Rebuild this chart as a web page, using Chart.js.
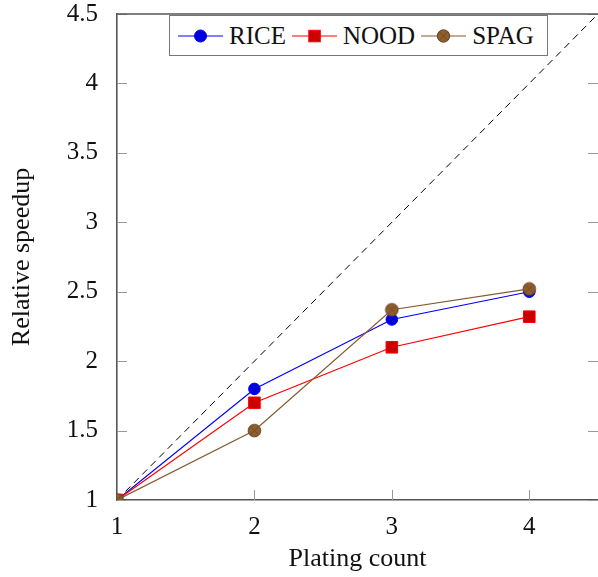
<!DOCTYPE html>
<html>
<head>
<meta charset="utf-8">
<script src="https://cdn.jsdelivr.net/npm/chart.js@4"></script>
<style>
  body { margin: 0; background: white; }
  #wrap { position: relative; width: 598px; height: 577px; }
  #legend {
    position: absolute; left: 169px; top: 15px; width: 379px; height: 41px;
    box-sizing: border-box; border: 1.5px solid #777; background: white;
    display: flex; align-items: center; padding-left: 8px;
    font-family: "Liberation Serif", serif; font-size: 25px; color: #111;
  }
  #legend .item { display: flex; align-items: center; margin-right: 6px; }
  #legend svg { margin-right: 6px; }
</style>
</head>
<body>
<div id="wrap">
  <canvas id="chart" width="598" height="577"></canvas>
  <div id="legend"></div>
</div>
<script>
// Data
const xValues = [1, 2, 3, 4];
const rice = [1, 1.8, 2.3, 2.5];
const nood = [1, 1.7, 2.1, 2.32];
const spag = [1, 1.5, 2.37, 2.52];
const idealLine = [1, 4.5];
const xTicks = [1, 2, 3, 4];
const yTicks = [1, 1.5, 2, 2.5, 3, 3.5, 4, 4.5];

const FONT = '"Liberation Serif", serif';
const AXIS = '#555';

// otimes marker for SPAG
function otimesMarker() {
  const c = document.createElement('canvas');
  c.width = 15; c.height = 15;
  const g = c.getContext('2d');
  g.beginPath();
  g.arc(7.5, 7.5, 6.3, 0, Math.PI * 2);
  g.fillStyle = '#8f5d2e';
  g.fill();
  g.lineWidth = 1;
  g.strokeStyle = '#6a4522';
  g.stroke();
  g.beginPath();
  g.moveTo(3.3, 3.3); g.lineTo(11.7, 11.7);
  g.moveTo(11.7, 3.3); g.lineTo(3.3, 11.7);
  g.lineWidth = 0.8;
  g.stroke();
  return c;
}

const series = [
  { label: 'RICE', data: rice, color: '#0000ff', fill: '#0000dd', style: 'circle', radius: 5.8, order: 2 },
  { label: 'NOOD', data: nood, color: '#ff0000', fill: '#cc0000', style: 'rect', radius: 8.2, order: 1 },
  { label: 'SPAG', data: spag, color: '#84582e', fill: '#8f5d2e', style: otimesMarker(), radius: 7.5, order: 0 }
];

// inward tick marks and top frame line
const frame = {
  id: 'frame',
  beforeDatasetsDraw(chart) {
    const { ctx, chartArea: a, scales } = chart;
    ctx.save();
    ctx.strokeStyle = '#999';
    ctx.lineWidth = 1;
    const len = 10;
    xTicks.forEach(v => {
      const px = Math.round(scales.x.getPixelForValue(v)) + 0.5;
      ctx.beginPath();
      ctx.moveTo(px, a.bottom);
      ctx.lineTo(px, a.bottom - len);
      ctx.stroke();
    });
    yTicks.forEach(v => {
      const py = Math.round(scales.y.getPixelForValue(v)) + 0.5;
      ctx.beginPath();
      ctx.moveTo(a.left, py);
      ctx.lineTo(a.left + len, py);
      ctx.moveTo(a.right, py);
      ctx.lineTo(a.right - len, py);
      ctx.stroke();
    });
    ctx.strokeStyle = AXIS;
    ctx.lineWidth = 1.6;
    ctx.beginPath();
    ctx.moveTo(a.left, a.top);
    ctx.lineTo(a.right, a.top);
    ctx.stroke();
    ctx.restore();
  }
};

const datasets = series.map(s => ({
  label: s.label,
  data: xValues.map((x, i) => ({ x: x, y: s.data[i] })),
  borderColor: s.color,
  borderWidth: 1.2,
  pointStyle: s.style,
  pointRadius: s.radius,
  pointBackgroundColor: s.fill,
  pointBorderColor: s.color,
  pointBorderWidth: 1,
  tension: 0,
  order: s.order
}));

datasets.push({
  label: 'ideal',
  data: idealLine.map(v => ({ x: v, y: v })),
  borderColor: '#000',
  borderWidth: 1,
  borderDash: [7, 5],
  pointRadius: 0,
  order: 3
});

new Chart(document.getElementById('chart'), {
  type: 'line',
  data: { datasets: datasets },
  options: {
    responsive: false,
    animation: false,
    layout: { autoPadding: false, padding: { top: 14, right: 0, left: 0, bottom: 0 } },
    plugins: { legend: { display: false }, tooltip: { enabled: false } },
    scales: {
      x: {
        type: 'linear', min: 1, max: 4.5,
        afterBuildTicks: s => { s.ticks = xTicks.map(v => ({ value: v })); },
        afterFit: s => { s.height = 77; s.paddingLeft = 0; s.paddingRight = 0; },
        grid: { display: false },
        border: { display: true, color: AXIS, width: 1.6 },
        ticks: { color: '#111', padding: 4, font: { family: FONT, size: 25 }, callback: v => String(v) },
        title: { display: true, text: 'Plating count', color: '#111', padding: { bottom: 2 }, font: { family: FONT, size: 26 } }
      },
      y: {
        type: 'linear', min: 1, max: 4.5,
        afterBuildTicks: s => { s.ticks = yTicks.map(v => ({ value: v })); },
        afterFit: s => { s.width = 117; s.paddingTop = 0; s.paddingBottom = 0; },
        grid: { display: false },
        border: { display: true, color: AXIS, width: 1.6 },
        ticks: { color: '#111', padding: 11, font: { family: FONT, size: 25 }, callback: v => String(v) },
        title: { display: true, text: 'Relative speedup', color: '#111', padding: { top: 7 }, font: { family: FONT, size: 26 } }
      }
    }
  },
  plugins: [frame]
});

// legend
function legendSymbol(s) {
  let mark;
  if (s.label === 'NOOD') {
    mark = `<rect x="16.8" y="4.3" width="11.5" height="11.5" fill="${s.fill}" stroke="${s.color}" stroke-width="1"/>`;
  } else if (s.label === 'SPAG') {
    mark = `<circle cx="22.5" cy="10" r="6.2" fill="${s.fill}" stroke="#6a4522" stroke-width="1"/>` +
      `<path d="M18.3 5.8 L26.7 14.2 M26.7 5.8 L18.3 14.2" stroke="#6a4522" stroke-width="0.8"/>`;
  } else {
    mark = `<circle cx="22.5" cy="10" r="6" fill="${s.fill}" stroke="${s.color}" stroke-width="1"/>`;
  }
  return `<svg width="45" height="20"><line x1="0" y1="10" x2="45" y2="10" stroke="${s.color}" stroke-width="1.2"/>${mark}</svg>`;
}
const legend = document.getElementById('legend');
series.forEach(s => {
  const item = document.createElement('div');
  item.className = 'item';
  item.innerHTML = legendSymbol(s) + '<span>' + s.label + '</span>';
  legend.appendChild(item);
});
</script>
</body>
</html>
